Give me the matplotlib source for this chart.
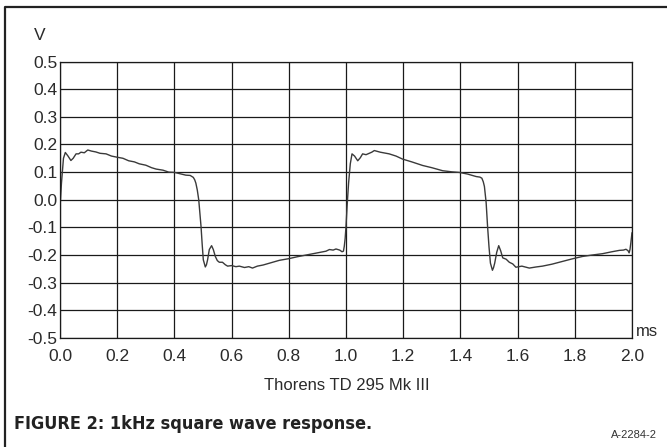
import matplotlib.pyplot as plt
from matplotlib.lines import Line2D
from matplotlib import font_manager

# Square wave response (time in ms, level in V)
time_ms = [0.000, 0.005, 0.012, 0.0185, 0.028, 0.038, 0.046, 0.056, 0.065, 0.073,
           0.085, 0.097, 0.110, 0.125, 0.140, 0.161, 0.180, 0.199, 0.220, 0.240,
           0.260, 0.277, 0.300, 0.320, 0.336, 0.360, 0.380, 0.400, 0.420, 0.440,
           0.455, 0.466, 0.471, 0.475, 0.480, 0.485, 0.489, 0.493, 0.497, 0.501,
           0.508, 0.512, 0.516, 0.522, 0.530, 0.536, 0.543, 0.550, 0.557, 0.568,
           0.578, 0.586, 0.600, 0.615, 0.627, 0.645, 0.660, 0.673, 0.690, 0.710,
           0.730, 0.743, 0.767, 0.800, 0.830, 0.860, 0.900, 0.930, 0.942, 0.955,
           0.965, 0.978, 0.986, 0.991, 0.994, 0.997, 1.000, 1.004, 1.009, 1.015,
           1.021, 1.030, 1.041, 1.050, 1.058, 1.070, 1.081, 1.090, 1.099, 1.120,
           1.151, 1.175, 1.198, 1.230, 1.268, 1.300, 1.338, 1.370, 1.396, 1.425,
           1.455, 1.468, 1.475, 1.480, 1.484, 1.490, 1.495, 1.500, 1.505, 1.512,
           1.516, 1.520, 1.527, 1.534, 1.541, 1.548, 1.560, 1.571, 1.583, 1.594,
           1.615, 1.641, 1.665, 1.687, 1.720, 1.757, 1.790, 1.827, 1.860, 1.897,
           1.930, 1.956, 1.970, 1.979, 1.986, 1.990, 1.993, 1.996, 2.000]
volts = [-0.025, 0.060, 0.150, 0.171, 0.158, 0.142, 0.150, 0.166, 0.166, 0.172,
         0.170, 0.180, 0.176, 0.173, 0.168, 0.166, 0.158, 0.154, 0.150, 0.141,
         0.137, 0.130, 0.125, 0.116, 0.111, 0.107, 0.100, 0.099, 0.094, 0.089,
         0.088, 0.081, 0.072, 0.060, 0.035, 0.000, -0.050, -0.096, -0.160, -0.217,
         -0.243, -0.235, -0.217, -0.180, -0.166, -0.180, -0.205, -0.220, -0.226, -0.226,
         -0.235, -0.240, -0.238, -0.242, -0.240, -0.245, -0.242, -0.247, -0.240, -0.236,
         -0.230, -0.226, -0.219, -0.213, -0.206, -0.200, -0.192, -0.186, -0.180, -0.182,
         -0.178, -0.182, -0.188, -0.186, -0.168, -0.140, -0.096, -0.020, 0.060, 0.130,
         0.166, 0.158, 0.141, 0.152, 0.166, 0.163, 0.168, 0.172, 0.178, 0.172,
         0.166, 0.158, 0.147, 0.137, 0.124, 0.116, 0.105, 0.101, 0.099, 0.093,
         0.084, 0.082, 0.078, 0.065, 0.048, -0.010, -0.096, -0.170, -0.229, -0.255,
         -0.245, -0.229, -0.190, -0.166, -0.185, -0.210, -0.215, -0.226, -0.232, -0.244,
         -0.240, -0.247, -0.243, -0.240, -0.233, -0.223, -0.214, -0.205, -0.200, -0.195,
         -0.188, -0.183, -0.182, -0.179, -0.184, -0.192, -0.180, -0.156, -0.120]

x_ticks = [0.0, 0.2, 0.4, 0.6, 0.8, 1.0, 1.2, 1.4, 1.6, 1.8, 2.0]
y_ticks = [-0.5, -0.4, -0.3, -0.2, -0.1, 0.0, 0.1, 0.2, 0.3, 0.4, 0.5]

plt.rcParams['font.family'] = ['Liberation Sans', 'DejaVu Sans']

# narrow face for the caption
names = {f.name for f in font_manager.fontManager.ttflist}
narrow = 'DejaVu Sans Condensed' if 'DejaVu Sans Condensed' in names else 'DejaVu Sans'

fig = plt.figure(figsize=(6.67, 4.47), dpi=100)
ax = fig.add_axes([0.090, 0.2438, 0.8575, 0.6186])

ax.plot(time_ms, volts, color='#3a3a3a', linewidth=1.0)

ax.set_xlim(0, 2.0)
ax.set_ylim(-0.5, 0.5)
ax.set_xticks(x_ticks)
ax.set_yticks(y_ticks)
ax.set_xticklabels(['%.1f' % t for t in x_ticks])
ax.set_yticklabels(['%.1f' % v for v in y_ticks])
ax.tick_params(length=0, labelsize=12.5, labelcolor='#2a2a2a', pad=2)
ax.tick_params(axis='x', pad=8)
for lab in ax.get_yticklabels():
    lab.set_verticalalignment('center_baseline')
ax.grid(True, color='#1a1a1a', linewidth=0.9)
for s in ax.spines.values():
    s.set_color('#1a1a1a')
    s.set_linewidth(0.9)

# unit labels
fig.text(40 / 667, 1 - 36 / 447, 'V', fontsize=12.5, color='#2a2a2a',
         ha='center', va='center')
fig.text(636 / 667, 1 - 331 / 447, 'ms', fontsize=12, color='#2a2a2a',
         ha='left', va='center')

fig.text(347 / 667, 1 - 386 / 447, 'Thorens TD 295 Mk III', fontsize=12,
         color='#2a2a2a', ha='center', va='center')
fig.text(14 / 667, 1 - 424 / 447, 'FIGURE 2: 1kHz square wave response.',
         fontsize=13, fontweight='bold', color='#222222', ha='left', va='center',
         family=narrow, fontstretch='condensed')
fig.text(657 / 667, 1 - 435 / 447, 'A-2284-2', fontsize=8, color='#333333',
         ha='right', va='center')

# border frame around the figure (left and top edges visible)
fig.add_artist(Line2D([5 / 667, 5 / 667, 1.0], [0.0, 1 - 7 / 447, 1 - 7 / 447],
                      transform=fig.transFigure, color='#222222', linewidth=1.6))

fig.savefig('out.png', dpi=100)
plt.close(fig)
